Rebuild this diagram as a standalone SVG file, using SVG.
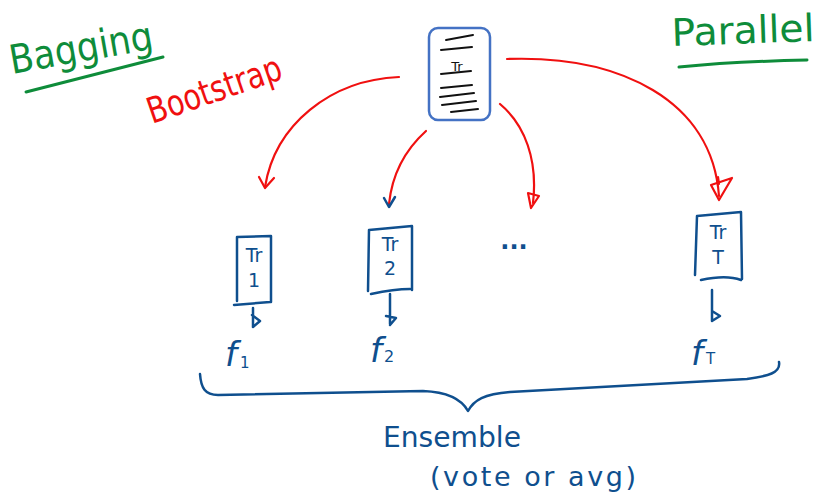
<svg xmlns="http://www.w3.org/2000/svg" width="816" height="503" viewBox="0 0 816 503">
<style>
  .green { fill: #0E8C3A; font-family: "DejaVu Sans", "Noto Sans", sans-serif; }
  .red { fill: #F01010; font-family: "DejaVu Sans", "Noto Sans", sans-serif; }
  .bluet { fill: #0F4F8E; font-family: "DejaVu Sans", "Noto Sans", sans-serif; }
  .boxt { fill: #0F4F8E; font-family: "DejaVu Sans", "Noto Sans", sans-serif; font-size: 19px; text-anchor: middle; }
  .gline { stroke: #0E8C3A; stroke-width: 3; fill: none; stroke-linecap: round; }
  .rline { stroke: #F01010; stroke-width: 2.2; fill: none; stroke-linecap: round; stroke-linejoin: round; }
  .bline { stroke: #0F4F8E; stroke-width: 2.5; fill: none; stroke-linecap: round; stroke-linejoin: round; }
  .kline { stroke: #111; stroke-width: 2; fill: none; stroke-linecap: round; }
</style>
<rect width="816" height="503" fill="#ffffff"/>

<g id="title-bagging">
  <text class="green" x="12" y="74" font-size="40" textLength="145" lengthAdjust="spacingAndGlyphs" transform="rotate(-10 12 74)">Bagging</text>
  <path class="gline" d="M26,92 L163,57"/>
</g>

<g id="title-parallel">
  <text class="green" x="672" y="46" font-size="38" textLength="143" lengthAdjust="spacingAndGlyphs" transform="rotate(-2 672 46)">Parallel</text>
  <path class="gline" d="M679,67 C720,63 760,61 807,60"/>
</g>

<g id="label-bootstrap">
  <text class="red" x="152" y="124" font-size="36" textLength="140" lengthAdjust="spacingAndGlyphs" transform="rotate(-19 152 124)">Bootstrap</text>
</g>

<g id="source">
  <rect x="429" y="28" width="61" height="92" rx="9" ry="9" fill="none" stroke="#4472C4" stroke-width="2.5"/>
  <path class="kline" d="M446,40 L473,35 M441,50 L472,47 M441,74 L471,71 M441,88 L472,85 M440,97 L474,93 M442,105 L476,101 M451,112 L478,109"/>
  <text x="457" y="71" font-size="13" font-family="DejaVu Sans, sans-serif" fill="#111" text-anchor="middle">Tr</text>
</g>

<g id="connectors">
  <path class="rline" d="M399,77 C330,80 275,125 265,187"/>
  <path class="rline" d="M259,177 L265,188 L274,178"/>
  <path class="rline" d="M426,131 C405,150 392,175 389,204"/>
  <path class="bline" d="M384,198 L389,207 L395,197"/>
  <path class="rline" d="M500,104 C525,125 538,160 533,203"/>
  <path class="rline" d="M528,193 L539,196 L531,208 Z"/>
  <path class="rline" d="M507,59 C620,55 712,100 719,196"/>
  <path class="rline" d="M711,185 L732,178 L719,200 Z M718,177 L719,184"/>
  <path class="bline" d="M253,308 L253,327 M252,315 L260,321 L253,327"/>
  <path class="bline" d="M390,294 L390,324 M386,316 L396,318 L390,325"/>
  <path class="bline" d="M712,290 L712,321 M712,311 L720,316 L712,321"/>
  <path class="bline" d="M200,374 C201,388 205,395 218,395 L423,391 C448,392 462,400 468,411 C474,400 484,394 510,392 L747,379 C768,376 781,373 779,362"/>
</g>

<g id="tr1">
  <path class="bline" d="M237,237 L271,236 L271,302 M237,237 L237,301 M234,305 L270,302"/>
  <text class="boxt" x="254" y="262">Tr</text>
  <text class="boxt" x="254" y="287">1</text>
</g>

<g id="tr2">
  <path class="bline" d="M369,230 L412,226 L412,290 M369,230 L368,291 M371,294 C385,291 398,289 410,289"/>
  <text class="boxt" x="390" y="251">Tr</text>
  <text class="boxt" x="390" y="275">2</text>
</g>

<g id="dots">
  <text class="bluet" x="514" y="249" font-size="24" font-weight="bold" text-anchor="middle">...</text>
</g>

<g id="trT">
  <path class="bline" d="M697,216 L741,212 L742,279 M697,216 L695,275 M701,280 C715,277 730,276 741,280"/>
  <text class="boxt" x="718" y="239">Tr</text>
  <text class="boxt" x="718" y="264">T</text>
</g>

<g id="f1">
  <text class="bluet" x="225" y="366" font-size="34" font-style="italic">f</text>
  <text class="bluet" x="240" y="368" font-size="15">1</text>
</g>
<g id="f2">
  <text class="bluet" x="370" y="362" font-size="34" font-style="italic">f</text>
  <text class="bluet" x="384" y="362" font-size="16">2</text>
</g>
<g id="fT">
  <text class="bluet" x="691" y="365" font-size="34" font-style="italic">f</text>
  <text class="bluet" x="706" y="364" font-size="15">T</text>
</g>

<g id="ensemble">
  <text class="bluet" x="383" y="447" font-size="28" textLength="138" lengthAdjust="spacingAndGlyphs">Ensemble</text>
  <text class="bluet" x="430" y="486" font-size="27" textLength="206" lengthAdjust="spacing">(vote or avg)</text>
</g>
</svg>
